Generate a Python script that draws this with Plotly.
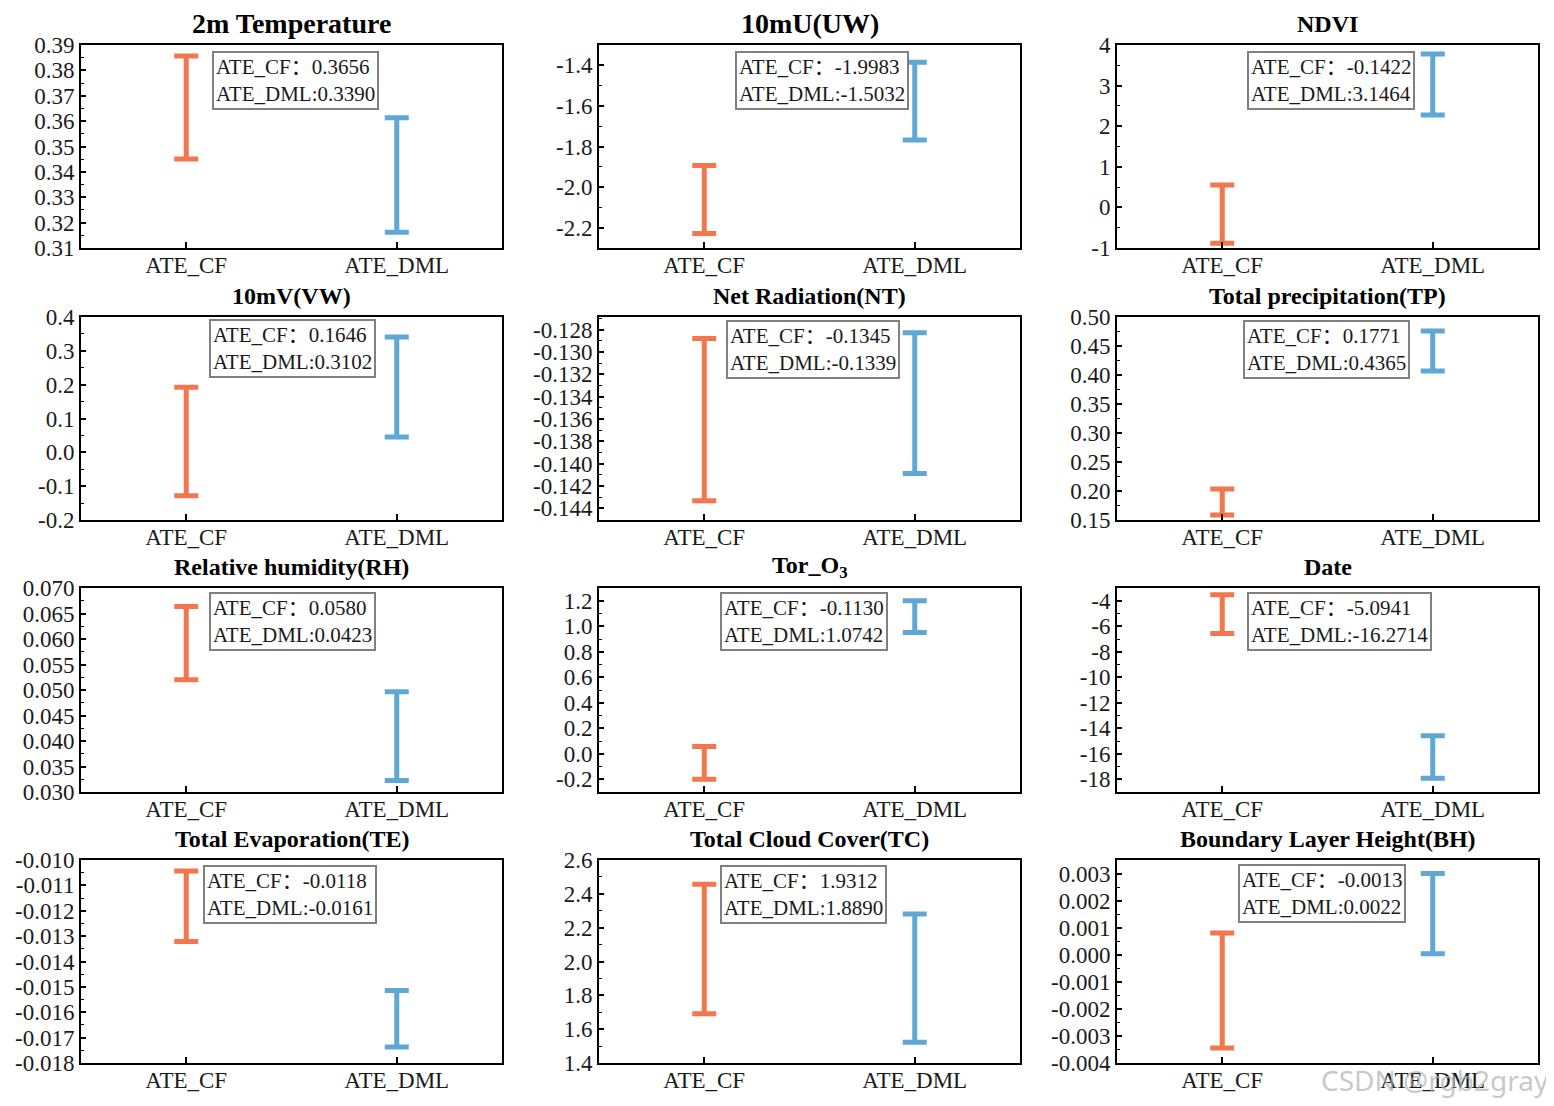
import plotly.graph_objects as go

# ---------------- data ----------------
categories = ["ATE_CF", "ATE_DML"]

titles = ["2m Temperature", "10mU(UW)", "NDVI",
          "10mV(VW)", "Net Radiation(NT)", "Total precipitation(TP)",
          "Relative humidity(RH)", "Tor_O<sub>3</sub>", "Date",
          "Total Evaporation(TE)", "Total Cloud Cover(TC)", "Boundary Layer Height(BH)"]

ate_cf_text = ["0.3656", "-1.9983", "-0.1422", "0.1646", "-0.1345", "0.1771",
               "0.0580", "-0.1130", "-5.0941", "-0.0118", "1.9312", "-0.0013"]
ate_dml_text = ["0.3390", "-1.5032", "3.1464", "0.3102", "-0.1339", "0.4365",
                "0.0423", "1.0742", "-16.2714", "-0.0161", "1.8890", "0.0022"]

cf_low = [0.3451, -2.229, -0.884, -0.128, -0.14332, 0.1586,
          0.05199, -0.200, -6.574, -0.01321, 1.691, -0.00345]
cf_high = [0.3857, -1.894, 0.552, 0.1925, -0.1288, 0.2034,
           0.06636, 0.056, -3.527, -0.01043, 2.456, 0.0008]
dml_low = [0.3162, -1.768, 2.276, 0.045, -0.14088, 0.4071,
           0.03225, 0.951, -17.92, -0.01737, 1.522, 0.000038]
dml_high = [0.3613, -1.385, 3.778, 0.341, -0.12827, 0.4759,
            0.04967, 1.200, -14.586, -0.01514, 2.281, 0.0030]

y_ranges = [[0.31, 0.39], [-2.3, -1.3], [-1, 4],
            [-0.2, 0.4], [-0.14504, -0.12687], [0.15, 0.50],
            [0.030, 0.070], [-0.3, 1.3], [-19, -3],
            [-0.018, -0.010], [1.4, 2.6], [-0.004, 0.0035]]

y_ticks = [
    [0.31, 0.32, 0.33, 0.34, 0.35, 0.36, 0.37, 0.38, 0.39],
    [-2.2, -2.0, -1.8, -1.6, -1.4],
    [-1, 0, 1, 2, 3, 4],
    [-0.2, -0.1, 0.0, 0.1, 0.2, 0.3, 0.4],
    [-0.144, -0.142, -0.140, -0.138, -0.136, -0.134, -0.132, -0.130, -0.128],
    [0.15, 0.20, 0.25, 0.30, 0.35, 0.40, 0.45, 0.50],
    [0.030, 0.035, 0.040, 0.045, 0.050, 0.055, 0.060, 0.065, 0.070],
    [-0.2, 0.0, 0.2, 0.4, 0.6, 0.8, 1.0, 1.2],
    [-18, -16, -14, -12, -10, -8, -6, -4],
    [-0.018, -0.017, -0.016, -0.015, -0.014, -0.013, -0.012, -0.011, -0.010],
    [1.4, 1.6, 1.8, 2.0, 2.2, 2.4, 2.6],
    [-0.004, -0.003, -0.002, -0.001, 0.000, 0.001, 0.002, 0.003],
]
tick_decimals = [2, 1, 0, 1, 3, 2, 3, 1, 0, 3, 1, 3]

# ---------------- layout config ----------------
OFF = 8                      # page body margin of the html page
W, H = 1554 - OFF, 1106 - OFF
col_px = [(81, 502), (599, 1020), (1117, 1538)]
row_px = [(45, 248), (317, 520), (588, 792), (860, 1063)]
box_x = [0.311, 0.323, 0.309, 0.304, 0.302, 0.299, 0.304, 0.287, 0.309, 0.290, 0.287, 0.287]
box_top_px = [6, 6, 6, 2, 3, 3, 4, 4, 4, 5, 5, 4]
title_size = [28, 28, 24, 24, 24, 24, 24, 24, 24, 24, 24, 24]

ORANGE = "#F2774F"
BLUE = "#5FA8D3"
FONT = "Liberation Serif"
BOX_FONT = "Liberation Serif, 'Noto Sans CJK SC'"


def px_x(x):
    return (x - OFF) / W


def px_y(y):
    return 1 - (y - OFF) / H


fig = go.Figure()
annotations = []
layout_axes = {}

for i in range(12):
    r, c = divmod(i, 3)
    n = i + 1
    xa = "x" if n == 1 else f"x{n}"
    ya = "y" if n == 1 else f"y{n}"
    xkey = "xaxis" if n == 1 else f"xaxis{n}"
    ykey = "yaxis" if n == 1 else f"yaxis{n}"
    x0, x1 = col_px[c]
    t, b = row_px[r]
    xdom = [px_x(x0), px_x(x1)]
    ydom = [px_y(b), px_y(t)]

    for cat, lo, hi, col in ((categories[0], cf_low[i], cf_high[i], ORANGE),
                             (categories[1], dml_low[i], dml_high[i], BLUE)):
        mid = (lo + hi) / 2
        fig.add_trace(go.Scatter(
            x=[cat], y=[mid], mode="markers", xaxis=xa, yaxis=ya,
            marker=dict(size=1, color="rgba(0,0,0,0)"),
            error_y=dict(type="data", symmetric=False, array=[hi - mid],
                         arrayminus=[mid - lo], color=col, thickness=5, width=12),
            showlegend=False, hoverinfo="skip"))

    d = tick_decimals[i]
    ticktext = [f"{v:.{d}f}" for v in y_ticks[i]]
    step = y_ticks[i][1] - y_ticks[i][0]

    layout_axes[xkey] = dict(
        domain=xdom, anchor=ya, type="category", range=[-0.5, 1.5],
        categoryorder="array", categoryarray=categories,
        showline=True, linecolor="black", linewidth=2, mirror=True,
        ticks="inside", ticklen=6, tickwidth=2, tickcolor="black",
        ticklabelstandoff=-5, automargin=False,
        tickfont=dict(family=FONT, size=23, color="#1a1a1a"),
        showgrid=False, zeroline=False, fixedrange=True)
    layout_axes[ykey] = dict(
        domain=ydom, anchor=xa, range=y_ranges[i],
        tickvals=y_ticks[i], ticktext=ticktext, automargin=False,
        showline=True, linecolor="black", linewidth=2, mirror=True,
        ticks="inside", ticklen=5, tickwidth=1.5, tickcolor="black",
        minor=dict(ticks="inside", ticklen=3, tickwidth=1, tickcolor="black",
                   dtick=step / 2, tick0=y_ticks[i][0], showgrid=False),
        tickfont=dict(family=FONT, size=23, color="#1a1a1a"),
        showgrid=False, zeroline=False, fixedrange=True)

    # subplot title
    annotations.append(dict(
        text=f"<b>{titles[i]}</b>", xref="paper", yref="paper",
        x=px_x((x0 + x1) / 2), y=px_y(t - 21), xanchor="center", yanchor="middle",
        showarrow=False, font=dict(family=FONT, size=title_size[i], color="black")))

    # value box
    annotations.append(dict(
        text=f"ATE_CF：{ate_cf_text[i]}<br>ATE_DML:{ate_dml_text[i]}",
        xref=f"{xa} domain", yref=f"{ya} domain",
        x=box_x[i], y=1 - box_top_px[i] / (b - t), xanchor="left", yanchor="top",
        align="left", showarrow=False, bgcolor="white",
        bordercolor="#808080", borderwidth=2, borderpad=2,
        font=dict(family=BOX_FONT, size=21, color="#1a1a1a")))

# watermark
annotations.append(dict(
    text="CSDN @rgb2gray", xref="paper", yref="paper",
    x=px_x(1551), y=px_y(1080), xanchor="right", yanchor="middle",
    showarrow=False, font=dict(family="Noto Sans", size=28, color="rgba(175,175,175,0.7)")))

fig.update_layout(
    template="none",
    width=W, height=H, margin=dict(l=0, r=0, t=0, b=0, autoexpand=False),
    paper_bgcolor="white", plot_bgcolor="white",
    annotations=annotations, **layout_axes)

fig.write_html("out.html")
